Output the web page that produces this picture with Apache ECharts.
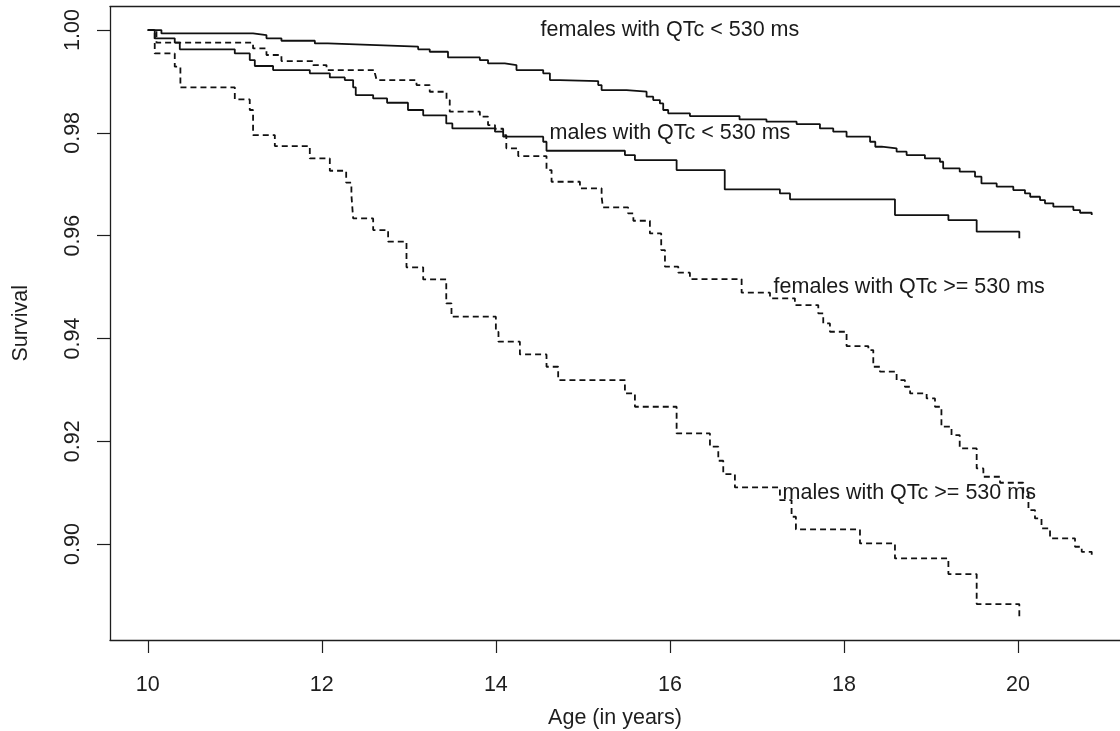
<!DOCTYPE html>
<html>
<head>
<meta charset="utf-8">
<script src="https://cdn.jsdelivr.net/npm/echarts@6/dist/echarts.min.js"></script>
<style>
html,body{margin:0;padding:0;background:#fff;}
#chart{width:1120px;height:731px;}
</style>
</head>
<body>
<div id="chart"></div>
<script>
// ---- data (Kaplan-Meier step curves) ----
const femaleLowTime = [10, 10.157, 11.21, 11.364, 11.536, 11.92, 12.07, 12.63, 13.107, 13.24, 13.45, 13.816, 13.91, 14.103, 14.237, 14.544, 14.621, 14.736, 15.176, 15.215, 15.502, 15.732, 15.808, 15.885, 15.923, 15.98, 16.23, 16.80, 17.11, 17.456, 17.724, 17.877, 18.03, 18.30, 18.36, 18.433, 18.605, 18.72, 18.93, 19.103, 19.14, 19.33, 19.506, 19.58, 19.755, 19.946, 20.08, 20.14, 20.253, 20.31, 20.406, 20.636, 20.713, 20.847];
const femaleLowSurv = [1.0, 0.99935, 0.99903, 0.99838, 0.99792, 0.9974, 0.99708, 0.99676, 0.99624, 0.99578, 0.99468, 0.99416, 0.99351, 0.99319, 0.99222, 0.99157, 0.99027, 0.99008, 0.9893, 0.98833, 0.988, 0.98703, 0.98638, 0.98573, 0.98444, 0.98379, 0.98327, 0.98262, 0.98217, 0.98171, 0.98087, 0.98022, 0.97925, 0.97827, 0.9773, 0.97698, 0.97633, 0.97568, 0.97503, 0.97438, 0.97309, 0.97244, 0.97147, 0.97017, 0.96952, 0.96887, 0.96822, 0.96757, 0.96693, 0.96628, 0.96563, 0.96498, 0.96446, 0.9640];

const maleLowTime = [10, 10.08, 10.31, 10.368, 11.0, 11.172, 11.23, 11.44, 11.862, 12.092, 12.264, 12.36, 12.39, 12.59, 12.75, 12.99, 13.165, 13.43, 13.50, 13.99, 14.084, 14.544, 14.582, 15.483, 15.598, 16.077, 16.63, 17.264, 17.38, 18.586, 19.2, 19.525, 20.015];
const maleLowSurv = [1.0, 0.99838, 0.99754, 0.99624, 0.99546, 0.99416, 0.9930, 0.99222, 0.99157, 0.99079, 0.99027, 0.98885, 0.98735, 0.9867, 0.98586, 0.98444, 0.9834, 0.98184, 0.98087, 0.98022, 0.97925, 0.97827, 0.97652, 0.97568, 0.97471, 0.97276, 0.969, 0.96822, 0.96706, 0.96401, 0.96304, 0.96077, 0.9595];

const femaleHighTime = [10, 10.1, 11.21, 11.364, 11.536, 11.90, 12.054, 12.61, 12.63, 13.088, 13.24, 13.433, 13.47, 13.816, 13.91, 13.99, 14.084, 14.12, 14.257, 14.582, 14.64, 14.966, 15.215, 15.23, 15.52, 15.58, 15.77, 15.9, 15.943, 16.096, 16.23, 16.824, 17.15, 17.436, 17.705, 17.762, 17.839, 18.03, 18.28, 18.337, 18.414, 18.605, 18.70, 18.76, 18.95, 19.046, 19.12, 19.236, 19.33, 19.525, 19.602, 19.793, 20.06, 20.12, 20.195, 20.27, 20.368, 20.655, 20.732, 20.847];
const femaleHighSurv = [1.0, 0.99754, 0.99643, 0.99514, 0.99397, 0.99319, 0.99222, 0.9916, 0.99027, 0.9893, 0.988, 0.98638, 0.98411, 0.98314, 0.98152, 0.9808, 0.97957, 0.97698, 0.97549, 0.97276, 0.97049, 0.9692, 0.96757, 0.9655, 0.96433, 0.9629, 0.96044, 0.9572, 0.95396, 0.95279, 0.95156, 0.9489, 0.9478, 0.9465, 0.94488, 0.94293, 0.94131, 0.93852, 0.93774, 0.9345, 0.93353, 0.93191, 0.93061, 0.92931, 0.92834, 0.92672, 0.92283, 0.9212, 0.91861, 0.91472, 0.9131, 0.91193, 0.90986, 0.90661, 0.90499, 0.90305, 0.9011, 0.89948, 0.8985, 0.8972];

const maleHighTime = [10, 10.08, 10.31, 10.375, 11.0, 11.172, 11.21, 11.46, 11.862, 12.092, 12.28, 12.34, 12.36, 12.59, 12.762, 12.973, 13.165, 13.43, 13.49, 14.0, 14.03, 14.276, 14.582, 14.716, 15.483, 15.598, 16.077, 16.46, 16.556, 16.613, 16.747, 17.264, 17.398, 17.448, 18.184, 18.586, 19.2, 19.525, 20.015];
const maleHighSurv = [1.0, 0.99546, 0.99287, 0.98885, 0.98651, 0.98444, 0.97957, 0.97743, 0.97503, 0.97263, 0.9703, 0.9679, 0.96336, 0.96109, 0.95882, 0.95383, 0.95149, 0.94682, 0.94423, 0.9413, 0.93937, 0.9369, 0.9345, 0.93191, 0.92931, 0.92672, 0.92153, 0.91894, 0.91621, 0.91362, 0.91102, 0.90856, 0.90532, 0.90285, 0.90013, 0.89721, 0.89416, 0.88833, 0.88586];

const xTicks = [10, 12, 14, 16, 18, 20];
const yTicks = [0.90, 0.92, 0.94, 0.96, 0.98, 1.00];

const annText = ['females with QTc < 530 ms', 'males with QTc < 530 ms', 'females with QTc >= 530 ms', 'males with QTc >= 530 ms'];
const annX = [16, 16, 18.75, 18.75];
const annY = [1.00, 0.98, 0.95, 0.91];

// ---- build chart ----
const FONT = "'Liberation Sans', Arial, Helvetica, sans-serif";
const INK = '#1e1e1e';
const X_MIN = 9.566, X_MAX = 21.172;   // plot box runs past the right edge of the picture
const Y_MIN = 0.88134, Y_MAX = 1.00456;

function pairs(t, s) { return t.map((v, i) => [v, s[i]]); }
function kmSeries(name, t, s, dashed) {
  return {
    name: name, type: 'line', step: 'end', data: pairs(t, s),
    xAxisIndex: 0, yAxisIndex: 0,
    symbol: 'none', showSymbol: false, silent: true, clip: true,
    lineStyle: { color: '#111', width: 1.8, type: dashed ? [6, 4] : 'solid' }
  };
}

const chart = echarts.init(document.getElementById('chart'), null, { renderer: 'canvas' });
chart.setOption({
  animation: false,
  backgroundColor: '#fff',
  textStyle: { fontFamily: FONT },
  grid: { left: 110, top: 6.6, right: 0, height: 633.4, show: false, containLabel: false, outerBoundsMode: 'none' },
  xAxis: [{
    type: 'value', min: X_MIN, max: X_MAX, position: 'bottom',
    name: 'Age (in years)', nameLocation: 'middle', nameGap: 78,
    nameTextStyle: { fontSize: 21.5, color: INK, fontFamily: FONT, verticalAlign: 'middle', align: 'center' },
    axisLine: { show: true, onZero: false, lineStyle: { color: INK, width: 1.3 } },
    splitLine: { show: false },
    axisTick: { show: true, inside: false, length: 13, customValues: xTicks, lineStyle: { color: INK, width: 1.2 } },
    axisLabel: { show: true, customValues: xTicks, margin: 45, fontSize: 21.5, color: INK, fontFamily: FONT, verticalAlign: 'middle', formatter: v => String(v) }
  }, {
    type: 'value', min: X_MIN, max: X_MAX, position: 'top',
    axisLine: { show: true, onZero: false, lineStyle: { color: INK, width: 1.3 } },
    splitLine: { show: false }, axisTick: { show: false }, axisLabel: { show: false }
  }],
  yAxis: {
    type: 'value', min: Y_MIN, max: Y_MAX,
    name: 'Survival', nameLocation: 'middle', nameGap: 89, nameRotate: 90,
    nameTextStyle: { fontSize: 21.5, color: INK, fontFamily: FONT, verticalAlign: 'middle', align: 'center' },
    axisLine: { show: true, onZero: false, lineStyle: { color: INK, width: 1.3 } },
    splitLine: { show: false },
    axisTick: { show: true, inside: false, length: 13, customValues: yTicks, lineStyle: { color: INK, width: 1.2 } },
    axisLabel: { show: true, customValues: yTicks, rotate: 90, margin: 37, fontSize: 21.5, color: INK, fontFamily: FONT, align: 'center', verticalAlign: 'middle', formatter: v => Number(v).toFixed(2) }
  },
  series: [
    kmSeries('females with QTc < 530 ms', femaleLowTime, femaleLowSurv, false),
    kmSeries('males with QTc < 530 ms', maleLowTime, maleLowSurv, false),
    kmSeries('females with QTc >= 530 ms', femaleHighTime, femaleHighSurv, true),
    kmSeries('males with QTc >= 530 ms', maleHighTime, maleHighSurv, true),
    {
      type: 'scatter', silent: true, symbolSize: 0, z: 5, xAxisIndex: 0, yAxisIndex: 0,
      itemStyle: { opacity: 1, color: '#1a1a1a' },
      data: annText.map((t, i) => ({ name: t, value: [annX[i], annY[i]] })),
      label: { show: true, position: 'inside', formatter: '{b}', fontSize: 21.5, color: '#1a1a1a', fontFamily: FONT, opacity: 1 }
    }
  ]
});
</script>
</body>
</html>
